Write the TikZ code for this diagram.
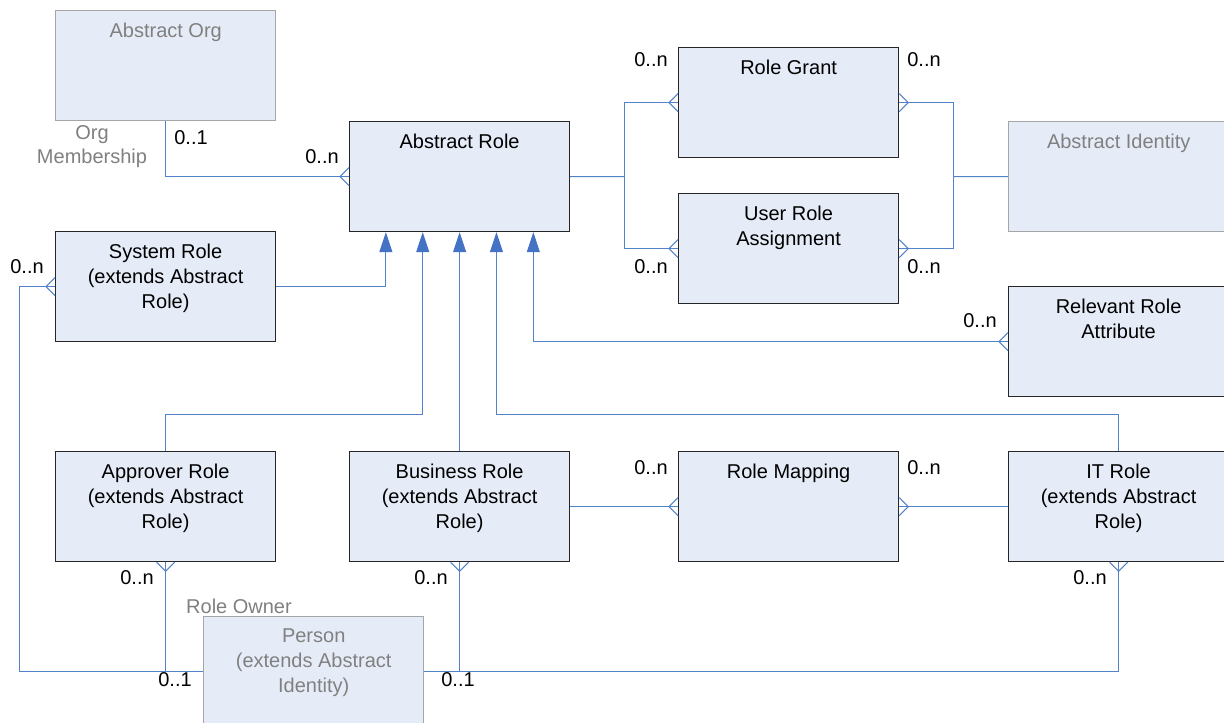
\documentclass[tikz,border=0pt]{standalone}
\usepackage{fontspec}
\setmainfont{Liberation Sans}
\usetikzlibrary{arrows.meta,calc}

% crow's foot tip: two prongs opening toward the entity, line runs through
\pgfdeclarearrow{
  name = Crow,
  parameters = {\the\pgfarrowlength,\the\pgfarrowwidth},
  setup code = {
    \pgfarrowssettipend{0pt}
    \pgfarrowssetlineend{0pt}
    \pgfarrowssetbackend{-\pgfarrowlength}
    \pgfarrowssetvisualbackend{-\pgfarrowlength}
    \pgfarrowshullpoint{0pt}{.5\pgfarrowwidth}
    \pgfarrowshullpoint{0pt}{-.5\pgfarrowwidth}
    \pgfarrowshullpoint{-\pgfarrowlength}{0pt}
    \pgfarrowssavethe\pgfarrowlength
    \pgfarrowssavethe\pgfarrowwidth
  },
  drawing code = {
    \pgfsetdash{}{0pt}
    \pgfpathmoveto{\pgfqpoint{0pt}{.5\pgfarrowwidth}}
    \pgfpathlineto{\pgfqpoint{-\pgfarrowlength}{0pt}}
    \pgfpathlineto{\pgfqpoint{0pt}{-.5\pgfarrowwidth}}
    \pgfusepathqstroke
  },
  defaults = {length = 9pt, width = 18pt}
}

\definecolor{boxfill}{HTML}{E6ECF7}
\definecolor{boxline}{HTML}{262626}
\definecolor{absline}{HTML}{A6A6A6}
\definecolor{abstext}{HTML}{808080}
\definecolor{link}{HTML}{5283C8}
\definecolor{inherit}{HTML}{4472C4}

\tikzset{
  ent/.style={draw=boxline, fill=boxfill, line width=1.2pt,
    minimum width=220pt, minimum height=110pt, inner sep=0pt,
    anchor=north west},
  absent/.style={ent, draw=absline, line width=1.4pt},
  ttl/.style={anchor=north, yshift=-13pt, inner sep=0pt, align=center,
    font=\fontsize{20}{25}\selectfont, text=black},
  absttl/.style={ttl, text=abstext},
  rel/.style={draw=link, line width=1pt},
  isa/.style={rel, -{Triangle[length=20pt,width=13pt,color=inherit]}},
  card/.style={inner sep=0pt, font=\fontsize{20}{24}\selectfont},
  role/.style={card, text=abstext, align=center}
}

\begin{document}
\begin{tikzpicture}[x=1pt, y=-1pt]
  \useasboundingbox (0,0) rectangle (1224,723);
  \fill[white] (0,0) rectangle (1224,723);

  % entities
  \node[absent, label={[absttl]north:Abstract Org}] (aorg) at (55,10) {};
  \node[ent, label={[ttl]north:Abstract Role}] (arole) at (349,121) {};
  \node[ent, label={[ttl]north:Role Grant}] (rgrant) at (678,47) {};
  \node[ent, label={[ttl]north:User Role\\Assignment}] (ura) at (678,193) {};
  \node[absent, label={[absttl]north:Abstract Identity}] (aid) at (1008,121) {};
  \node[ent, label={[ttl]north:System Role\\(extends Abstract\\Role)}] (srole) at (55,231) {};
  \node[ent, label={[ttl]north:Relevant Role\\Attribute}] (rra) at (1008,286) {};
  \node[ent, label={[ttl]north:Approver Role\\(extends Abstract\\Role)}] (aprole) at (55,451) {};
  \node[ent, label={[ttl]north:Business Role\\(extends Abstract\\Role)}] (brole) at (349,451) {};
  \node[ent, label={[ttl]north:Role Mapping}] (rmap) at (678,451) {};
  \node[ent, label={[ttl]north:IT Role\\(extends Abstract\\Role)}] (itrole) at (1008,451) {};
  \node[absent, label={[absttl]north:Person\\(extends Abstract\\Identity)}] (prs) at (203,616) {};

  % inheritance entry points along the bottom of Abstract Role
  \coordinate (in1) at ($(arole.south west)!1/6!(arole.south east)$);
  \coordinate (in2) at ($(arole.south west)!2/6!(arole.south east)$);
  \coordinate (in3) at ($(arole.south west)!3/6!(arole.south east)$);
  \coordinate (in4) at ($(arole.south west)!4/6!(arole.south east)$);
  \coordinate (in5) at ($(arole.south west)!5/6!(arole.south east)$);

  % junctions for the grant / assignment forks
  \coordinate (jl) at ($(arole.east)!0.5!(rgrant.west |- arole.east)$);
  \coordinate (jr) at ($(aid.west)!0.5!(rgrant.east |- aid.west)$);

  % org membership
  \draw[rel, -Crow] (aorg.south) |- (arole.west);

  % role grant and user role assignment
  \draw[rel] (arole.east) -- (jl);
  \draw[rel, -Crow] (jl) |- (rgrant.west);
  \draw[rel, -Crow] (jl) |- (ura.west);
  \draw[rel] (aid.west) -- (jr);
  \draw[rel, -Crow] (jr) |- (rgrant.east);
  \draw[rel, -Crow] (jr) |- (ura.east);

  % specialisations of Abstract Role
  \draw[isa] (srole.east) -| (in1);
  \draw[isa] (aprole.north) -- ++(0,-37) -| (in2);
  \draw[isa] (brole.north) -- (brole.north |- in3);
  \draw[isa] (itrole.north) -- ++(0,-37) -| (in4);
  \draw[rel, {Triangle[length=20pt,width=13pt,color=inherit]}-Crow] (in5) |- (rra.west);

  % role mapping
  \draw[rel, -Crow] (brole.east) -- (rmap.west);
  \draw[rel, -Crow] (itrole.west) -- (rmap.east);

  % role owner
  \draw[rel, Crow-] (srole.west) -- ++(-36,0) |- (prs.west);
  \draw[rel, Crow-] (aprole.south) -- (aprole.south |- prs.west);
  \draw[rel, Crow-] (brole.south) -- (brole.south |- prs.east);
  \draw[rel, Crow-] (itrole.south) -- (itrole.south |- prs.east) -- (prs.east);

  % relationship names
  \node[role] (nmem) at (92,147) {Org\\Membership};
  \node[role] (nown) at (239,606) {Role Owner};

  % cardinalities
  \node[card] (c1) at (191,138) {0..1};
  \node[card] (c2) at (322,157) {0..n};
  \node[card] (c3) at (651,60) {0..n};
  \node[card] (c4) at (924,60) {0..n};
  \node[card] (c5) at (651,267) {0..n};
  \node[card] (c6) at (924,267) {0..n};
  \node[card] (c7) at (27,267) {0..n};
  \node[card] (c8) at (980,321) {0..n};
  \node[card] (c9) at (651,468) {0..n};
  \node[card] (c10) at (924,468) {0..n};
  \node[card] (c11) at (137,578) {0..n};
  \node[card] (c12) at (431,578) {0..n};
  \node[card] (c13) at (1090,578) {0..n};
  \node[card] (c14) at (175,680) {0..1};
  \node[card] (c15) at (458,680) {0..1};
\end{tikzpicture}
\end{document}
